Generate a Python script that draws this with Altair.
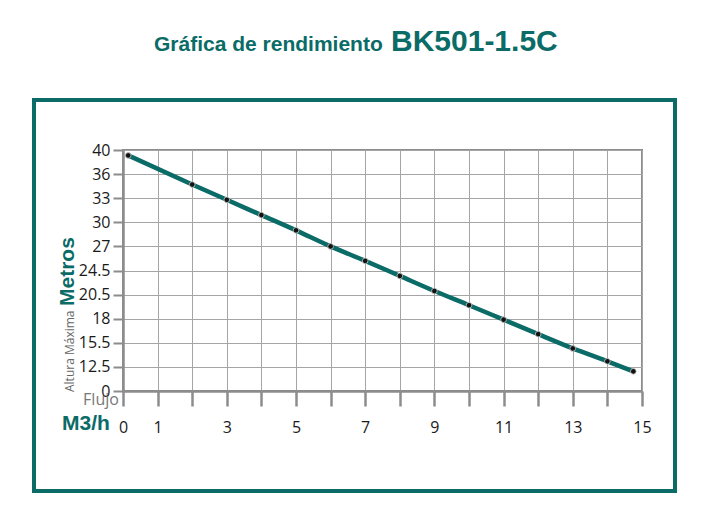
import altair as alt
import pandas as pd

# ---- data ----
flow = [0.15, 2, 3, 4, 5, 6, 7, 8, 9, 10, 11, 12, 13, 14, 14.75]
head = [39.1, 34.7, 32.8, 30.9, 29.0, 27.0, 25.5, 23.6, 21.1, 19.4, 17.9, 16.4, 14.8, 13.2, 10.2]

y_ticks = [0, 12.5, 15.5, 18, 20.5, 24.5, 27, 30, 33, 36, 40]
x_ticks = list(range(16))
x_labels = [0, 1, 3, 5, 7, 9, 11, 13, 15]

title_small = "Gráfica de rendimiento"
title_big = "BK501-1.5C"
ylab_small = "Altura Máxima"
ylab_big = "Metros"
xlab_small = "Flujo"
xlab_big = "M3/h"

TEAL = "#0a6b67"
W, H = 519, 241
BOLDF = "Liberation Sans, Arial, sans-serif"

df = pd.DataFrame({"q": flow, "h": head})

y_range = [H - i * H / (len(y_ticks) - 1) for i in range(len(y_ticks))]
lbl_expr = "indexof([" + ",".join(str(v) for v in x_labels) + "], datum.value) >= 0 ? datum.label : ''"

xenc = alt.X("q:Q", scale=alt.Scale(domain=[0, 15], nice=False, zero=False),
             axis=alt.Axis(values=x_ticks, tickCount=len(x_ticks), labelExpr=lbl_expr,
                           title=None, labelOverlap=False,
                           grid=True, gridColor="#a5a5a5", gridWidth=1,
                           domainColor="#8c8c8c", domainWidth=2.5,
                           tickColor="#8c8c8c", tickWidth=2.5, tickSize=15,
                           labelPadding=13, labelFontSize=16, labelFont="Open Sans",
                           labelColor="#1a1a1a", labelFlush=False))
yenc = alt.Y("h:Q", scale=alt.Scale(domain=y_ticks, range=y_range, nice=False, zero=False),
             axis=alt.Axis(values=y_ticks, tickCount=len(y_ticks), format=".1~f",
                           title=None, labelOverlap=False,
                           grid=True, gridColor="#a5a5a5",
                           gridWidth=1, domainColor="#8c8c8c", domainWidth=2.5,
                           tickColor="#8c8c8c", tickWidth=2, tickSize=10,
                           labelPadding=3, labelFontSize=16, labelFont="Open Sans",
                           labelColor="#1a1a1a", labelFlush=False))

base = alt.Chart(df)
line = base.mark_line(color=TEAL, strokeWidth=4.5, interpolate="monotone").encode(x=xenc, y=yenc)
pts = base.mark_circle(color="#111111", size=32, opacity=1, stroke="#d0d0d0",
                       strokeWidth=0.8).encode(x="q:Q", y="h:Q")

one = pd.DataFrame({"a": [0]})
def txt(text, x, y, size, color, font, weight="normal", align="left", angle=0):
    kw = dict(text=text, fontSize=size, color=color, font=font, fontWeight=weight,
              align=align, baseline="alphabetic")
    if angle:
        kw["angle"] = angle
    return alt.Chart(one).mark_text(**kw).encode(x=alt.value(x), y=alt.value(y))

frame = alt.Chart(one).mark_rect(fill=None, stroke=TEAL, strokeWidth=4).encode(
    x=alt.value(-89), x2=alt.value(552), y=alt.value(-50), y2=alt.value(341))

texts = [
    txt(title_small, 31, -99, 21, TEAL, BOLDF, "bold"),
    txt(title_big, 268, -99, 30, TEAL, BOLDF, "bold"),
    txt(ylab_small, -49, 242, 12, "#666666", "Open Sans", angle=270),
    txt(ylab_big, -49, 156, 21, TEAL, BOLDF, "bold", angle=270),
    txt(xlab_small, -22, 255, 16, "#777777", "Open Sans", align="center"),
    txt(xlab_big, -61, 280, 21, TEAL, BOLDF, "bold"),
]

chart = alt.layer(frame, line, pts, *texts).properties(
    width=W, height=H,
    autosize=alt.AutoSizeParams(type="none"),
    padding={"left": 115, "top": 142, "right": 60, "bottom": 118},
).configure_view(stroke="#8c8c8c", strokeWidth=2)

chart.save("out.html", embed_options={"renderer": "svg", "actions": False})
